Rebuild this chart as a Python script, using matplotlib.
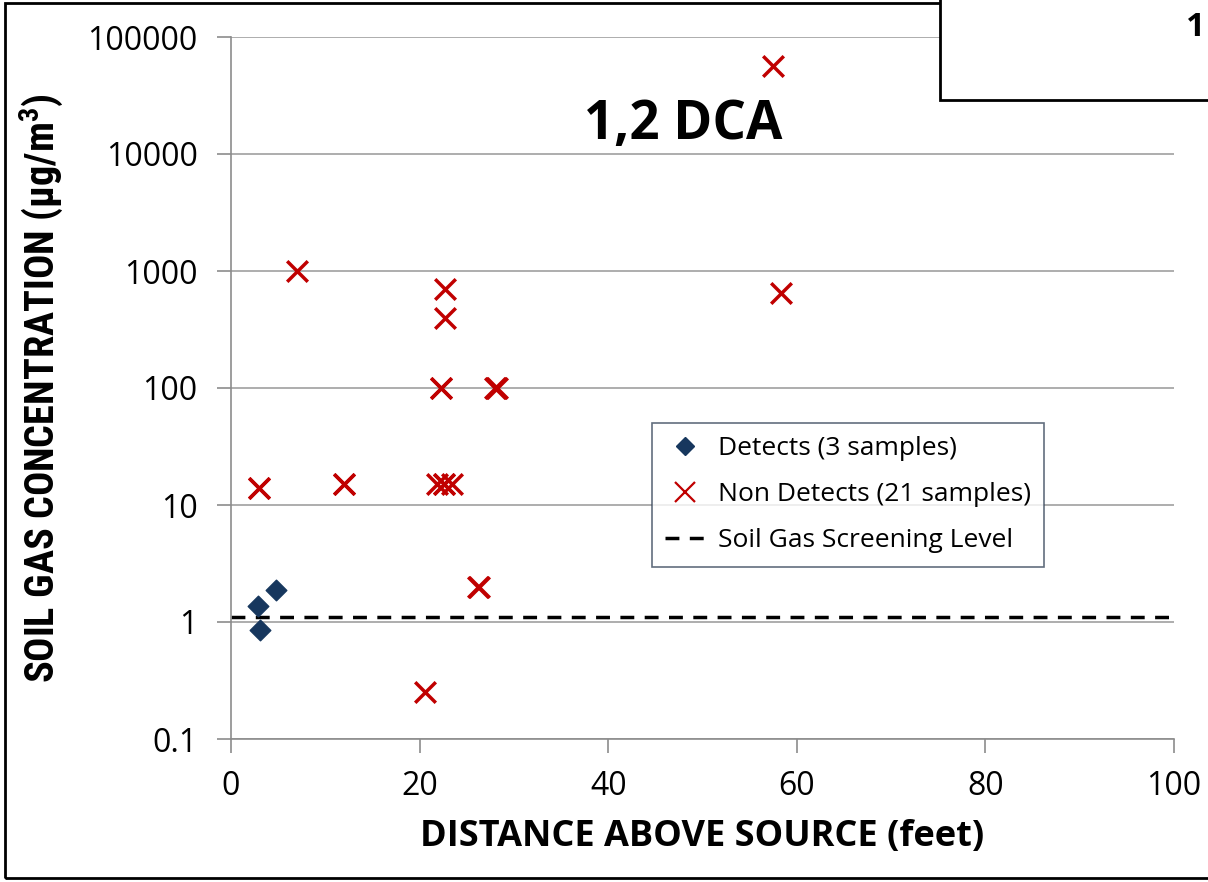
import matplotlib
matplotlib.use("Agg")
import matplotlib.pyplot as plt
from matplotlib.patches import Rectangle
from matplotlib.lines import Line2D

# Data
detect_x = [2.9, 3.1, 4.8]
detect_y = [1.37, 0.85, 1.88]

nondetect_x = [3.0, 7.0, 12.0, 21.8, 22.6, 23.4, 22.3, 22.7, 22.7, 28.0, 28.2,
               26.2, 26.3, 20.6, 57.5, 58.3, 22.6, 12.0, 3.0, 28.1, 22.3]
nondetect_y = [14, 1000, 15, 15, 15, 15, 100, 400, 700, 100, 100,
               2, 2, 0.25, 56000, 650, 15, 15, 14, 100, 100]

screening_level = 1.1

x_ticks = [0, 20, 40, 60, 80, 100]
y_ticks = [0.1, 1, 10, 100, 1000, 10000, 100000]
y_tick_labels = ["0.1", "1", "10", "100", "1000", "10000", "100000"]

title = "1,2 DCA"
xlabel = "DISTANCE ABOVE SOURCE (feet)"
ylabel = r"SOIL GAS CONCENTRATION ($\mathregular{\mu}$g/m$\mathregular{^3}$)"

fig = plt.figure(figsize=(12.08, 8.82), dpi=100)
fig.patch.set_facecolor("white")

ax = fig.add_axes([231/1208, 1-739/882, (1174-231)/1208, (739-37)/882])
ax.set_yscale("log")
ax.set_xlim(0, 100)
ax.set_ylim(0.1, 100000)

ax.yaxis.grid(True, color="#a0a0a0", linewidth=1.2)
ax.set_axisbelow(True)
for s in ["top", "right"]:
    ax.spines[s].set_visible(False)
ax.spines["left"].set_color("#8c8c8c")
ax.spines["bottom"].set_color("#8c8c8c")
ax.spines["left"].set_linewidth(1.2)
ax.spines["bottom"].set_linewidth(1.2)

ax.set_xticks(x_ticks)
ax.set_yticks(y_ticks)
ax.set_yticklabels(y_tick_labels)
ax.minorticks_off()
ax.tick_params(axis="both", direction="out", length=10, color="#8c8c8c", width=1.2,
               labelsize=23)
ax.tick_params(axis="y", pad=14)
ax.tick_params(axis="x", pad=12)
for lab in ax.get_xticklabels() + ax.get_yticklabels():
    lab.set_family(["Open Sans", "DejaVu Sans"])

ax.axhline(screening_level, color="black", linestyle=(0, (4, 3)), linewidth=2.5, zorder=2)

ax.scatter(nondetect_x, nondetect_y, marker="x", s=220, color="#c00000", linewidths=2.5, zorder=3)
ax.scatter(detect_x, detect_y, marker="D", s=110, color="#17375e", zorder=4)

ax.text(0.48, (739-125)/702, title, transform=ax.transAxes, fontsize=38, fontweight="bold",
        ha="center", va="center", family=["Open Sans", "DejaVu Sans"])

ax.set_xlabel(xlabel, fontsize=26, fontweight="bold", family=["Open Sans", "DejaVu Sans"], labelpad=12)
ax.set_ylabel(ylabel, fontsize=29, fontweight="bold",
              family=["Liberation Sans Narrow", "Roboto Condensed", "DejaVu Sans"], labelpad=16)

handles = [
    Line2D([], [], marker="D", color="#17375e", linestyle="none", markersize=9),
    Line2D([], [], marker="x", color="#c00000", linestyle="none", markersize=14, markeredgewidth=1.6),
    Line2D([], [], color="black", linestyle=(0, (4, 3)), linewidth=2.5),
]
labels = ["Detects (3 samples)", "Non Detects (21 samples)", "Soil Gas Screening Level"]
leg = ax.legend(handles, labels, loc="upper left", bbox_to_anchor=(652/1208, 1-423/882),
                bbox_transform=fig.transFigure, frameon=True, fancybox=False,
                edgecolor="#3a4a5e", handlelength=1.5, handletextpad=0.5, borderpad=0.5,
                labelspacing=0.8, borderaxespad=0,
                prop={"family": ["Open Sans", "DejaVu Sans"], "size": 19})
leg.get_frame().set_linewidth(1.2)

# Outer figure border
fig.add_artist(Rectangle((5/1208, 4/882), 1.2, 1-7/882, transform=fig.transFigure,
                         fill=False, edgecolor="black", linewidth=2, clip_on=False))
# Overlapping box at top right
fig.add_artist(Rectangle((940/1208, 1-100/882), 0.3, 0.2, transform=fig.transFigure,
                         facecolor="white", edgecolor="black", linewidth=2, zorder=10))
fig.text(1186/1208, 1-28/882, "1", fontsize=24, fontweight="bold", ha="left", va="center",
         family=["Open Sans", "DejaVu Sans"], zorder=11)

fig.savefig("out.png", dpi=100, facecolor="white")
